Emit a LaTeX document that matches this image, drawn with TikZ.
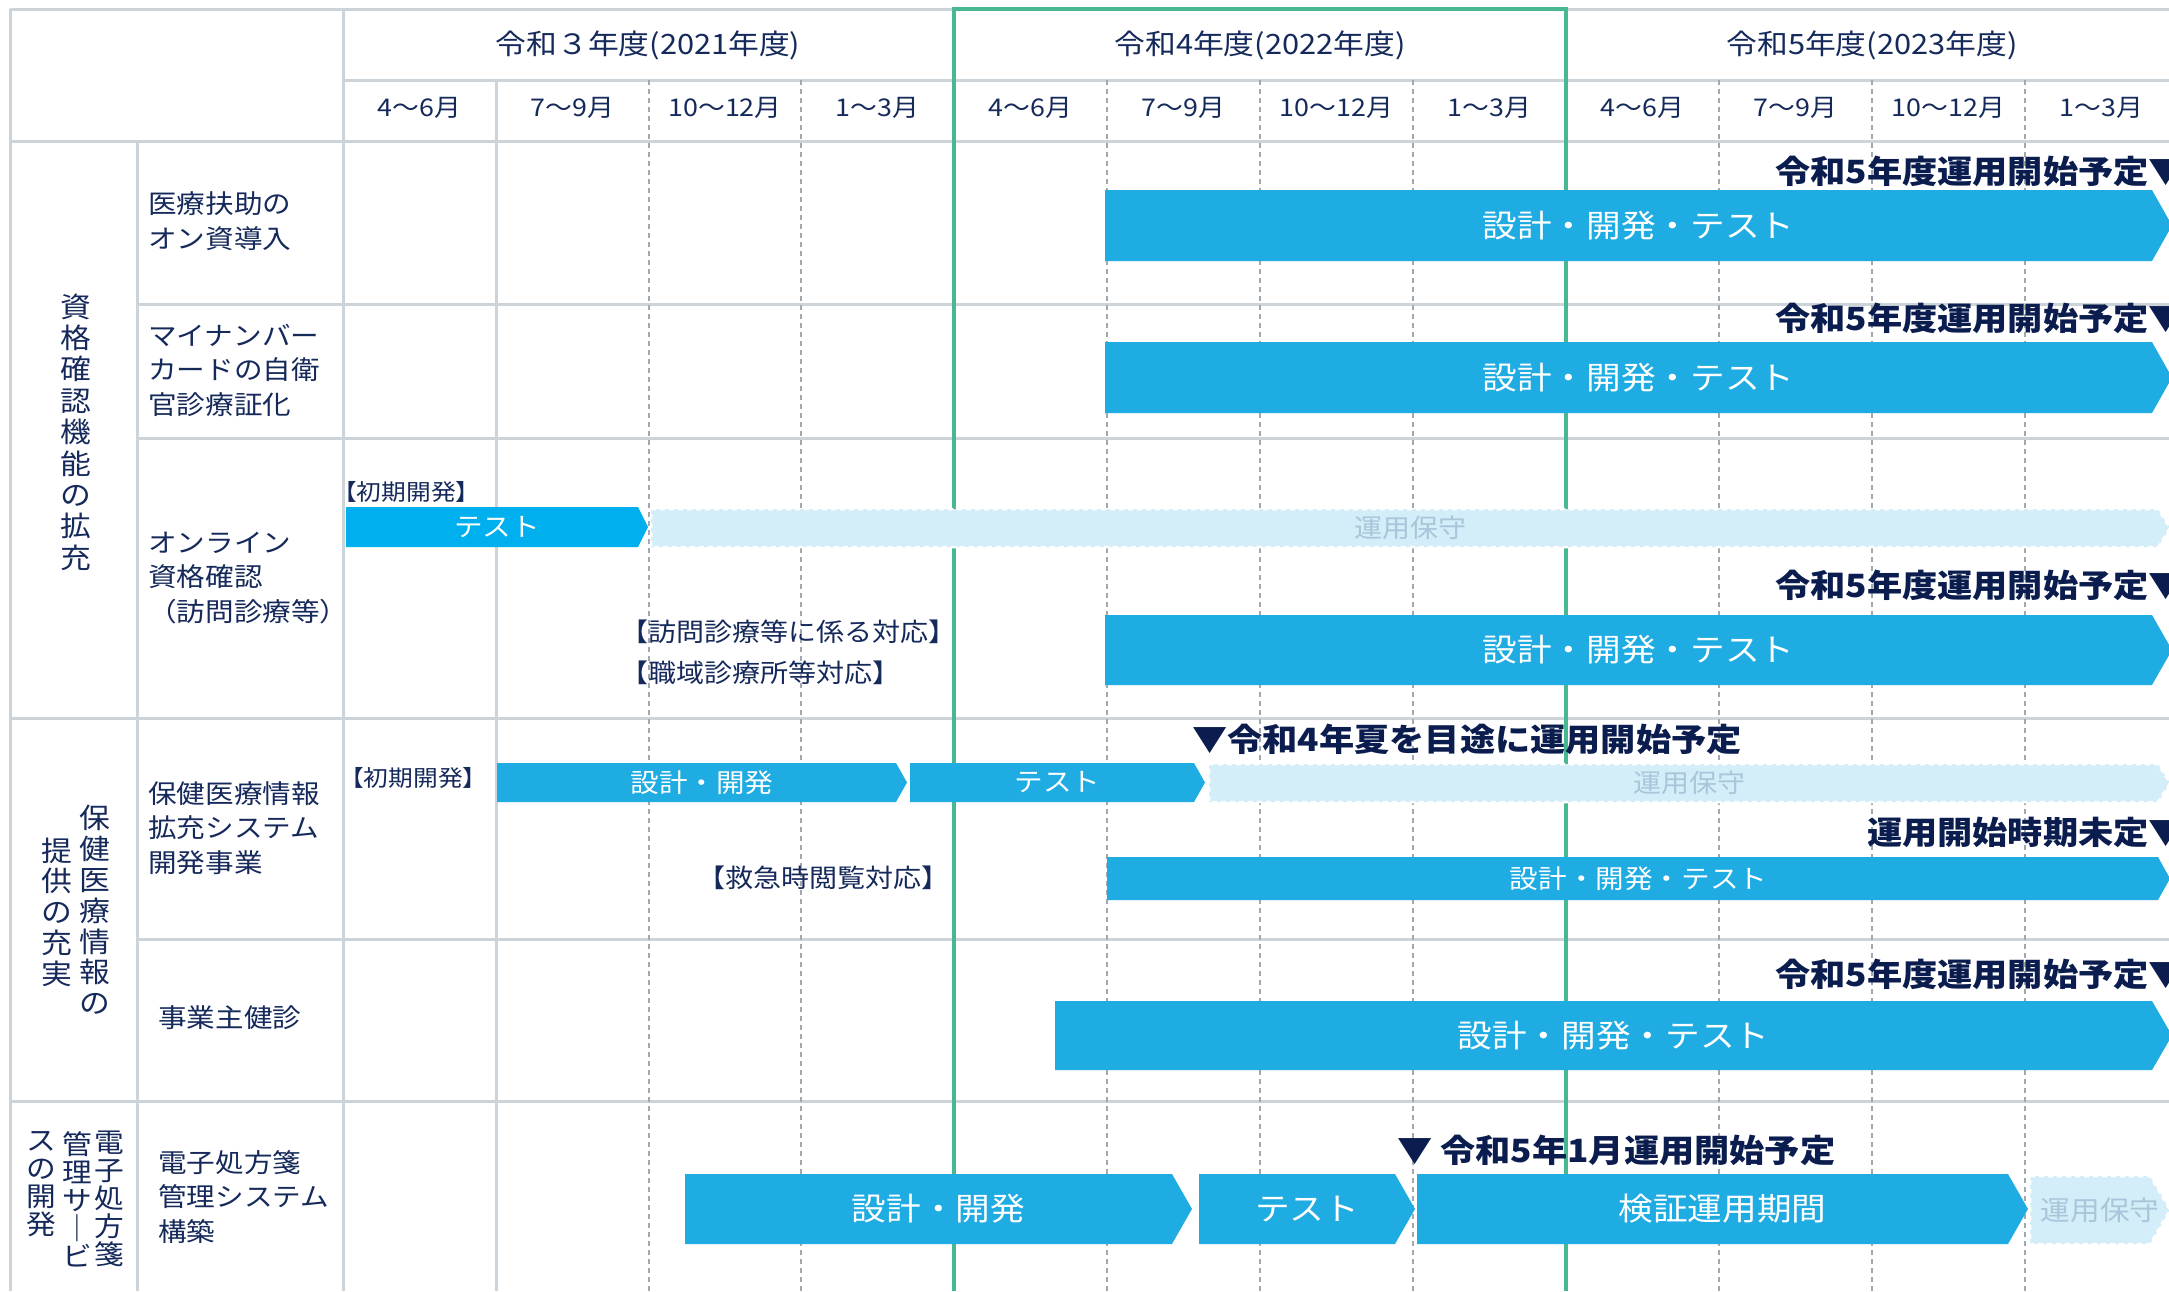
\documentclass[tikz,border=0pt]{standalone}
\usepackage{fontspec}
\setmainfont{Noto Sans CJK JP}[FakeStretch=1.1]
\definecolor{navy}{HTML}{15295B}
\definecolor{dnavy}{HTML}{0B1D4E}
\definecolor{gridgray}{HTML}{CCD3D9}
\definecolor{dashgray}{HTML}{A3A8AD}
\definecolor{ygreen}{HTML}{48B893}
\definecolor{barblue}{HTML}{1EACE2}
\definecolor{testblue}{HTML}{00B0EE}
\definecolor{lightbar}{HTML}{D3EEF9}
\definecolor{mainttxt}{HTML}{A9C5DA}
\newcommand\fsz[2]{\fontsize{#1pt}{#2pt}\selectfont}
\newcommand\arrowbar[9]{%
  \path[#7] (#2,#4) -- (#3,#4) -- ({#3+#6},{(#4+#5)/2}) -- (#3,#5) -- (#2,#5) -- cycle;
  \node[#8] (#1) at ({(#2+#3+#6)/2},{(#4+#5)/2}) {#9};}
\tikzset{
  gridline/.style={draw=gridgray, line width=3pt},
  qdash/.style={draw=dashgray, line width=2pt, dash pattern=on 5pt off 4pt},
  yearline/.style={draw=ygreen, line width=4pt},
  hdr/.style={text=navy, font=\fsz{28}{34}, inner sep=0},
  qtr/.style={text=navy, font=\fsz{24.4}{28}, inner sep=0},
  item/.style={text=navy, font=\fsz{26}{34.5}, align=left, inner sep=0, anchor=west},
  cat/.style={text=navy, align=center, inner sep=0},
  note/.style={text=navy, inner sep=0, anchor=west},
  milestone/.style={text=dnavy, font=\bfseries\fsz{32}{38}, inner sep=0},
  solidbar/.style={fill=barblue},
  testbar/.style={fill=testblue},
  maintbar/.style={fill=lightbar, draw=white, line width=2.5pt, dash pattern=on 5pt off 4pt},
  bigtxt/.style={text=white, inner sep=0, font=\fsz{31.5}{36}},
  smalltxt/.style={text=white, inner sep=0, font=\fsz{26}{30}},
  mtxt/.style={text=mainttxt, inner sep=0, font=\fsz{25.5}{30}},
}
\begin{document}
\begin{tikzpicture}[x=1pt,y=-1pt]
\useasboundingbox (0,0) rectangle (2169,1291);
\clip (0,0) rectangle (2169,1291);
\fill[white] (0,0) rectangle (2169,1291);
% grid
\draw[gridline] (10,9) -- (2169,9);
\draw[gridline] (10,9) -- (10,1291);
\draw[gridline] (343,9) -- (343,1291);
\draw[gridline] (343,80) -- (2169,80);
\draw[gridline] (10,141) -- (2169,141);
\draw[gridline] (137,141) -- (137,1291);
\draw[gridline] (137,304) -- (2169,304);
\draw[gridline] (137,438) -- (2169,438);
\draw[gridline] (10,718) -- (2169,718);
\draw[gridline] (137,939) -- (2169,939);
\draw[gridline] (10,1101) -- (2169,1101);
\draw[gridline] (496,80) -- (496,1291);
\foreach \x in {649,801,1107,1260,1413,1719,1872,2025} \draw[qdash] (\x,80) -- (\x,1291);
\draw[yearline] (954,1291) -- (954,9) -- (1566,9) -- (1566,1291);
% header
\node[hdr] (y21) at (648,45) {令和３年度(2021年度)};
\node[hdr] (y22) at (1260,45) {令和4年度(2022年度)};
\node[hdr] (y23) at (1872,45) {令和5年度(2023年度)};
\node[qtr] (q1) at (419.5,108) {4～6月};
\node[qtr] (q2) at (572.5,108) {7～9月};
\node[qtr] (q3) at (725,108) {10～12月};
\node[qtr] (q4) at (877.5,108) {1～3月};
\node[qtr] (q5) at (1030.5,108) {4～6月};
\node[qtr] (q6) at (1183.5,108) {7～9月};
\node[qtr] (q7) at (1336.5,108) {10～12月};
\node[qtr] (q8) at (1489.5,108) {1～3月};
\node[qtr] (q9) at (1642.5,108) {4～6月};
\node[qtr] (q10) at (1795.5,108) {7～9月};
\node[qtr] (q11) at (1948.5,108) {10～12月};
\node[qtr] (q12) at (2101.5,108) {1～3月};
% categories
\node[cat, font=\fsz{28}{31.4}] (c1) at (76,432) {資\\格\\確\\認\\機\\能\\の\\拡\\充};
\node[cat, font=\fsz{28}{30.8}] (c2r) at (95,910) {保\\健\\医\\療\\情\\報\\の};
\node[cat, font=\fsz{28}{30.8}] (c2l) at (57,912) {提\\供\\の\\充\\実};
\node[cat, font=\fsz{27}{28}, anchor=north] (c3r) at (109,1131) {電\\子\\処\\方\\箋};
\node[cat, font=\fsz{27}{28}, anchor=north] (c3m) at (77,1131) {管\\理\\サ\\｜\\ビ};
\node[cat, font=\fsz{27}{28}, anchor=north] (c3l) at (41,1131) {ス\\の\\開\\発};
% items
\node[item] (i1) at (148,221) {医療扶助の\\オン資導入};
\node[item] (i2) at (148,370) {マイナンバー\\カードの自衛\\官診療証化};
\node[item] (i3) at (148,578) {オンライン\\資格確認\\（訪問診療等）};
\node[item] (i4) at (148,828) {保健医療情報\\拡充システム\\開発事業};
\node[item] (i5) at (158,1018) {事業主健診};
\node[item] (i6) at (158,1197) {電子処方箋\\管理システム\\構築};
% bars
\arrowbar{b1}{1105}{2152}{190}{261}{20}{solidbar}{bigtxt}{設計・開発・テスト}
\arrowbar{b2}{1105}{2152}{342}{413}{20}{solidbar}{bigtxt}{設計・開発・テスト}
\arrowbar{b3a}{346}{638}{507}{547}{10}{testbar}{smalltxt}{テスト}
\arrowbar{b3b}{651}{2158}{509}{547}{12}{maintbar}{mtxt}{運用保守}
\arrowbar{b3c}{1105}{2152}{615}{685}{20}{solidbar}{bigtxt}{設計・開発・テスト}
\arrowbar{b4a}{497}{896}{763}{802}{11}{solidbar}{smalltxt}{設計・開発}
\arrowbar{b4b}{910}{1194}{763}{802}{11}{solidbar}{smalltxt}{テスト}
\arrowbar{b4c}{1209}{2158}{764}{802}{12}{maintbar}{mtxt}{運用保守}
\arrowbar{b4d}{1107}{2158}{857}{900}{12}{solidbar}{smalltxt}{設計・開発・テスト}
\arrowbar{b5}{1055}{2152}{1001}{1070}{20}{solidbar}{bigtxt}{設計・開発・テスト}
\arrowbar{b6a}{685}{1172}{1174}{1244}{20}{solidbar}{bigtxt}{設計・開発}
\arrowbar{b6b}{1199}{1395}{1174}{1244}{20}{solidbar}{bigtxt}{テスト}
\arrowbar{b6c}{1417}{2008}{1174}{1244}{20}{solidbar}{bigtxt}{検証運用期間}
\arrowbar{b6d}{2030}{2150}{1176}{1244}{20}{maintbar}{mtxt,font=\fsz{27}{30}}{運用保守}
% notes
\node[note, font=\fsz{22.5}{26}] (n1) at (332,492) {【初期開発】};
\node[note, font=\fsz{22.5}{26}] (n2) at (339,778) {【初期開発】};
\node[note, font=\fsz{25.5}{30}] (n3) at (620,632) {【訪問診療等に係る対応】};
\node[note, font=\fsz{25.5}{30}] (n4) at (620,673) {【職域診療所等対応】};
\node[note, font=\fsz{25.5}{30}] (n5) at (697,878) {【救急時閲覧対応】};
% milestones
\node[milestone, anchor=east] (m1) at (2184,171) {令和5年度運用開始予定▼};
\node[milestone, anchor=east] (m2) at (2184,318) {令和5年度運用開始予定▼};
\node[milestone, anchor=east] (m3) at (2184,585) {令和5年度運用開始予定▼};
\node[milestone, anchor=west] (m4a) at (1192,739) {▼令和4年夏を目途に運用開始予定};
\node[milestone, anchor=east] (m4b) at (2184,832) {運用開始時期未定▼};
\node[milestone, anchor=east] (m5) at (2184,974) {令和5年度運用開始予定▼};
\node[milestone, anchor=west] (m6) at (1397,1150) {▼ 令和5年1月運用開始予定};
\end{tikzpicture}
\end{document}
